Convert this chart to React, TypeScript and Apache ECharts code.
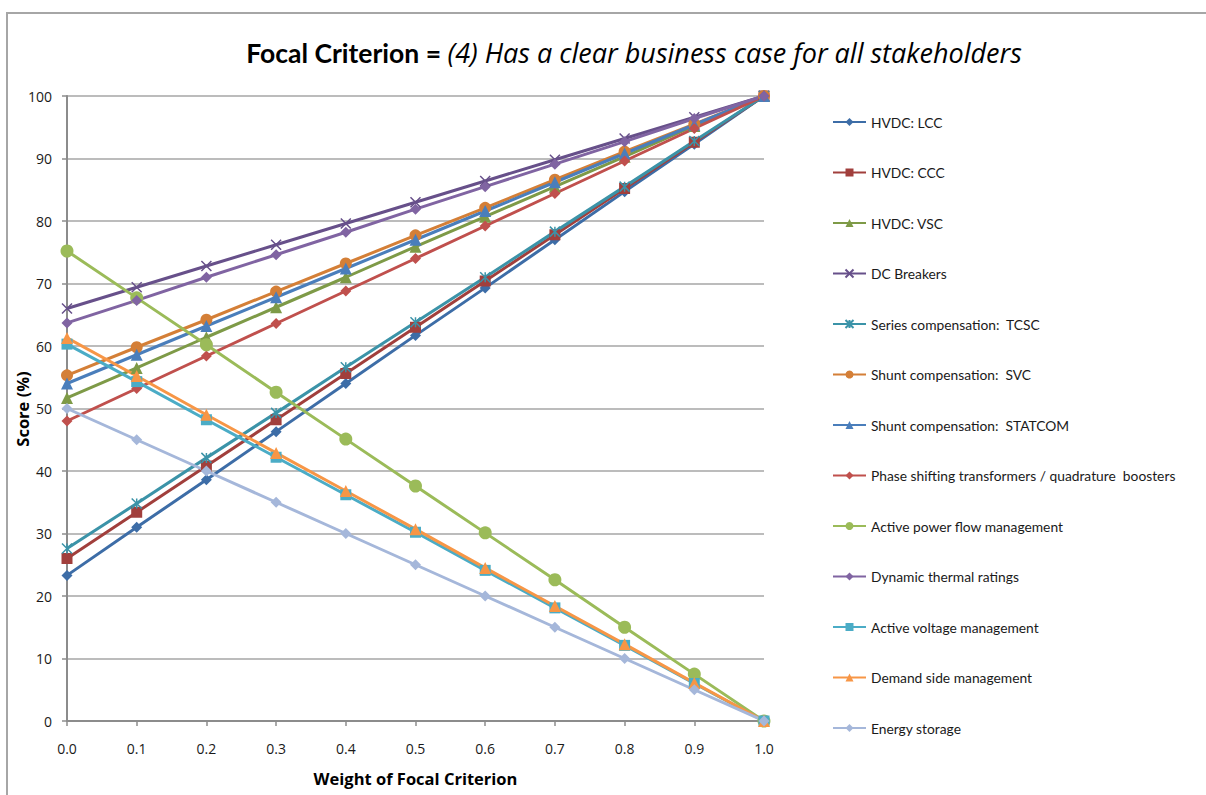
import React, { useEffect, useRef } from "react";
import * as echarts from "echarts";

// Weight given to the focal criterion
const weights = ["0.0", "0.1", "0.2", "0.3", "0.4", "0.5", "0.6", "0.7", "0.8", "0.9", "1.0"];

// Score (%) of each technology for every weight
const hvdcLcc = [23.3, 31.0, 38.6, 46.3, 54.0, 61.7, 69.3, 77.0, 84.7, 92.3, 100];
const hvdcCcc = [26.0, 33.4, 40.8, 48.2, 55.6, 63.0, 70.4, 77.8, 85.2, 92.6, 100];
const hvdcVsc = [51.7, 56.5, 61.4, 66.2, 71.0, 75.9, 80.7, 85.5, 90.3, 95.2, 100];
const dcBreakers = [66.0, 69.4, 72.8, 76.2, 79.6, 83.0, 86.4, 89.8, 93.2, 96.6, 100];
const seriesTcsc = [27.6, 34.8, 42.1, 49.3, 56.6, 63.8, 71.0, 78.3, 85.5, 92.8, 100];
const shuntSvc = [55.3, 59.8, 64.2, 68.7, 73.2, 77.7, 82.1, 86.6, 91.1, 95.5, 100];
const shuntStatcom = [54.0, 58.6, 63.2, 67.8, 72.4, 77.0, 81.6, 86.2, 90.8, 95.4, 100];
const phaseShifting = [48.0, 53.2, 58.4, 63.6, 68.8, 74.0, 79.2, 84.4, 89.6, 94.8, 100];
const activePowerFlow = [75.2, 67.7, 60.2, 52.6, 45.1, 37.6, 30.1, 22.6, 15.0, 7.5, 0];
const dynamicThermal = [63.7, 67.3, 71.0, 74.6, 78.2, 81.9, 85.5, 89.1, 92.7, 96.4, 100];
const activeVoltage = [60.3, 54.3, 48.2, 42.2, 36.2, 30.2, 24.1, 18.1, 12.1, 6.0, 0];
const demandSide = [61.3, 55.2, 49.0, 42.9, 36.8, 30.7, 24.5, 18.4, 12.3, 6.1, 0];
const energyStorage = [50.0, 45.0, 40.0, 35.0, 30.0, 25.0, 20.0, 15.0, 10.0, 5.0, 0];

const yTicks = [0, 10, 20, 30, 40, 50, 60, 70, 80, 90, 100];

const CROSS = "path://M0,0L10,10M10,0L0,10";
const STAR = "path://M0,0L10,10M10,0L0,10M5,0L5,10";

type Def = { name: string; data: number[]; color: string; symbol: string; size: number; stroke?: boolean };

const defs: Def[] = [
  { name: "HVDC: LCC", data: hvdcLcc, color: "#3D6DA7", symbol: "diamond", size: 11 },
  { name: "HVDC: CCC", data: hvdcCcc, color: "#A13F3C", symbol: "rect", size: 11 },
  { name: "HVDC: VSC", data: hvdcVsc, color: "#7E9A47", symbol: "triangle", size: 12 },
  { name: "DC Breakers", data: dcBreakers, color: "#67508A", symbol: CROSS, size: 10, stroke: true },
  { name: "Series compensation:  TCSC", data: seriesTcsc, color: "#3B93A8", symbol: STAR, size: 10, stroke: true },
  { name: "Shunt compensation:  SVC", data: shuntSvc, color: "#D47F37", symbol: "circle", size: 12 },
  { name: "Shunt compensation:  STATCOM", data: shuntStatcom, color: "#4A7EBB", symbol: "triangle", size: 12 },
  { name: "Phase shifting transformers / quadrature  boosters", data: phaseShifting, color: "#C0504D", symbol: "diamond", size: 11 },
  { name: "Active power flow management", data: activePowerFlow, color: "#9BBB59", symbol: "circle", size: 13 },
  { name: "Dynamic thermal ratings", data: dynamicThermal, color: "#8064A2", symbol: "diamond", size: 11 },
  { name: "Active voltage management", data: activeVoltage, color: "#4BACC6", symbol: "rect", size: 11 },
  { name: "Demand side management", data: demandSide, color: "#F79646", symbol: "triangle", size: 12 },
  { name: "Energy storage", data: energyStorage, color: "#A5B7DA", symbol: "diamond", size: 11 },
];

const FONT = "Lato, 'Open Sans', sans-serif";
const WIDE = "'Open Sans', Lato, sans-serif";

export default function App() {
  const ref = useRef<HTMLDivElement>(null);

  useEffect(() => {
    document.body.style.margin = "0";
    const chart = echarts.init(ref.current!, null, { renderer: "svg" });

    const series = defs.map((d) => ({
      name: d.name,
      type: "line",
      data: d.data,
      symbol: d.symbol,
      symbolSize: d.size,
      showAllSymbol: true,
      lineStyle: { color: d.color, width: 3 },
      itemStyle: d.stroke
        ? { color: d.color, borderColor: d.color, borderWidth: 1.5 }
        : { color: d.color, borderWidth: 0 },
      emphasis: { disabled: true },
    }));

    chart.setOption({
      animation: false,
      backgroundColor: "#ffffff",
      textStyle: { fontFamily: FONT },
      title: {
        text: "{b|Focal Criterion = }{i|(4) Has a clear business case for all stakeholders}",
        left: 629,
        textAlign: "center",
        top: 34,
        textStyle: {
          rich: {
            b: { fontFamily: FONT, fontSize: 26.5, fontWeight: "bold", color: "#000" },
            i: { fontFamily: WIDE, fontSize: 27, fontStyle: "italic", fontWeight: "normal", color: "#000" },
          },
        },
      },
      legend: {
        orient: "vertical",
        left: 832,
        top: 115,
        padding: 0,
        itemWidth: 33,
        itemHeight: 10,
        itemGap: 36.5,
        textStyle: { fontFamily: FONT, fontSize: 13.8, color: "#1a1a1a" },
        data: defs.map((d) => d.name),
      },
      grid: {
        left: 67,
        right: 442,
        top: 96,
        bottom: 74,
        containLabel: false,
        outerBoundsMode: "none",
      },
      xAxis: {
        type: "category",
        data: weights,
        boundaryGap: false,
        name: "Weight of Focal Criterion",
        nameLocation: "middle",
        nameGap: 49,
        nameTextStyle: { fontFamily: WIDE, fontSize: 16.5, fontWeight: "bold", color: "#000" },
        axisLine: { lineStyle: { color: "#8c8c8c", width: 2 } },
        axisTick: { show: true, length: 5, alignWithLabel: true, lineStyle: { color: "#8c8c8c", width: 1.5 } },
        axisLabel: { fontFamily: WIDE, fontSize: 14, color: "#1a1a1a", margin: 20 },
        splitLine: { show: false },
      },
      yAxis: {
        type: "value",
        min: yTicks[0],
        max: yTicks[yTicks.length - 1],
        interval: 10,
        axisLine: { show: true, lineStyle: { color: "#8c8c8c", width: 2 } },
        axisTick: { show: true, length: 5, lineStyle: { color: "#8c8c8c", width: 1.5 } },
        axisLabel: { fontFamily: WIDE, fontSize: 14, color: "#1a1a1a", margin: 15 },
        splitLine: { show: true, lineStyle: { color: "#a6a6a6", width: 1.5 } },
      },
      graphic: [
        {
          type: "polyline",
          shape: { points: [[7, 795], [7, 13], [1206, 13]] },
          style: { stroke: "#a6a6a6", lineWidth: 2, fill: null },
          silent: true,
        },
        {
          // vertical axis title
          type: "text",
          x: 22,
          y: 409,
          rotation: Math.PI / 2,
          style: {
            text: "Score (%)",
            fontFamily: WIDE,
            fontSize: 16.5,
            fontWeight: "bold",
            fill: "#000",
            align: "center",
            verticalAlign: "middle",
          },
          silent: true,
        },
      ],
      series,
    });

    return () => chart.dispose();
  }, []);

  return (
    <div
      ref={ref}
      style={{ position: "absolute", left: 0, top: 0, width: 1206, height: 795 }}
    />
  );
}
